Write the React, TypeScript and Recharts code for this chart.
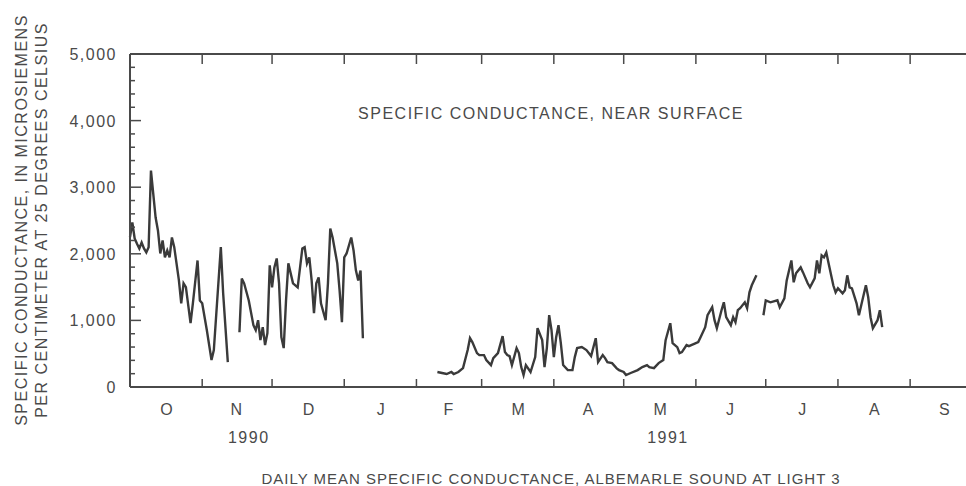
import { Line, LineChart, XAxis, YAxis } from "recharts";

// daily mean specific conductance, [day of water year (0 = Oct 1 1990), value]
const octNov: [number, number][] = [
  [0, 2250], [1, 2470], [2, 2230], [3, 2150], [4, 2080], [5, 2170], [6, 2080], [7, 2020],
  [8, 2100], [9, 3250], [11, 2545], [12, 2350], [13, 2005], [14, 2200], [15, 1946], [16, 2050],
  [17, 1946], [18, 2245], [19, 2100], [21, 1600], [22, 1257], [23, 1557], [24, 1500], [26, 958],
  [27, 1257], [29, 1900], [30, 1300], [31, 1257], [33, 853], [35, 404], [36, 554], [39, 2100],
  [40, 1407], [42, 374],
];

const novJan: [number, number][] = [
  [47, 823], [48, 1630], [49, 1557], [51, 1300], [53, 928], [54, 853], [55, 1003], [56, 704],
  [57, 898], [58, 629], [59, 808], [60, 1826], [61, 1497], [62, 1796], [63, 1930], [64, 1557],
  [65, 748], [66, 584], [67, 1300], [68, 1856], [70, 1557], [71, 1527], [72, 1497], [74, 2080],
  [75, 2100], [76, 1856], [77, 1946], [78, 1600], [79, 1108], [80, 1557], [81, 1647], [82, 1257],
  [84, 1003], [85, 1557], [86, 2380], [87, 2245], [89, 1856], [90, 1452], [91, 973], [92, 1946],
  [93, 2005], [95, 2245], [96, 2050], [97, 1751], [98, 1600], [99, 1750], [100, 733],
];

const febJun: [number, number][] = [
  [132, 225], [134, 210], [136, 195], [138, 225], [139, 195], [141, 225], [143, 284], [145, 554],
  [146, 733], [147, 674], [149, 509], [150, 479], [152, 479], [153, 404], [155, 329], [156, 434],
  [158, 509], [160, 763], [161, 524], [162, 479], [163, 464], [164, 329], [166, 584], [167, 509],
  [168, 299], [169, 180], [170, 329], [172, 225], [174, 449], [175, 883], [177, 704], [178, 299],
  [179, 584], [180, 1078], [181, 853], [182, 449], [183, 748], [184, 928], [185, 659], [186, 329],
  [188, 254], [190, 254], [191, 449], [192, 584], [194, 599], [196, 554], [198, 464], [200, 733],
  [201, 374], [203, 479], [204, 434], [205, 374], [207, 359], [209, 280], [210, 254], [212, 225],
  [213, 180], [215, 210], [218, 254], [220, 299], [222, 329], [223, 299], [225, 284], [227, 359],
  [229, 404], [230, 704], [232, 958], [233, 659], [235, 599], [236, 509], [237, 524], [239, 629],
  [240, 614], [242, 644], [244, 674], [245, 748], [247, 898], [248, 1078], [250, 1198], [251, 1003],
  [252, 883], [254, 1153], [255, 1272], [256, 1048], [258, 928], [259, 1048], [260, 973], [261, 1153],
  [262, 1183], [264, 1272], [265, 1183], [266, 1422], [267, 1527], [269, 1677],
];

const julAug: [number, number][] = [
  [272, 1078], [273, 1300], [275, 1272], [278, 1302], [279, 1198], [281, 1332], [282, 1600],
  [284, 1900], [285, 1572], [286, 1707], [288, 1796], [289, 1721], [291, 1557], [292, 1497],
  [294, 1632], [295, 1900], [296, 1707], [297, 1976], [298, 1946], [299, 2020], [300, 1856],
  [302, 1527], [303, 1422], [304, 1482], [306, 1407], [307, 1452], [308, 1677], [309, 1497],
  [310, 1482], [312, 1257], [313, 1078], [314, 1227], [316, 1527], [317, 1347], [318, 1048],
  [319, 883], [321, 1003], [322, 1153], [323, 898],
];

// days with missing record (line breaks)
const gapDays = [44, 116, 270];

const monthStarts = [0, 31, 61, 92, 123, 151, 182, 212, 243, 273, 304, 335, 365];
const monthLabels = ["O", "N", "D", "J", "F", "M", "A", "M", "J", "J", "A", "S"];
const yearLabels = [
  { day: 51, label: "1990" },
  { day: 231, label: "1991" },
];
const yMajor = [0, 1000, 2000, 3000, 4000, 5000];
const yMinorStep = 200;

const data: { day: number; value: number | null }[] = [];
[octNov, novJan, febJun, julAug].forEach((seg) =>
  seg.forEach(([day, value]) => data.push({ day, value }))
);
gapDays.forEach((day) => data.push({ day, value: null }));
data.sort((a, b) => a.day - b.day);

const monthMids = monthLabels.map((_, i) => Math.round((monthStarts[i] + monthStarts[i + 1]) / 2));
const bottomTicks = [...monthMids, ...yearLabels.map((d) => d.day)].sort((a, b) => a - b);
const yAll: number[] = [];
for (let v = 0; v <= 5000; v += yMinorStep) yAll.push(v);

// chart layout (plot box follows from margins / axis sizes below)
const W = 1000;
const H = 486;
const M = { top: 54, right: 20, left: 0, bottom: 39 };
const yAxisW = 130;
const xAxisH = 60;
const plotL = M.left + yAxisW;
const plotR = W - M.right;
const plotT = M.top;
const plotB = H - M.bottom - xAxisH;
const xOf = (d: number) => plotL + (d / 365) * (plotR - plotL);
const yOf = (v: number) => plotB - (v / 5000) * (plotB - plotT);

const ink = "#4a4a4a";
const font = "'Liberation Sans', Arial, sans-serif";

const BottomTick = (props: any) => {
  const { x, y, payload } = props;
  const v = payload.value;
  const mi = monthMids.indexOf(v);
  const yl = yearLabels.find((d) => d.day === v);
  const label = mi >= 0 ? monthLabels[mi] : yl ? yl.label : "";
  return (
    <text x={x} y={y + (mi >= 0 ? 28 : 56)} textAnchor="middle" fill={ink} fontSize={16} fontFamily={font} letterSpacing={1.5}>
      {label}
    </text>
  );
};

const LeftTick = (props: any) => {
  const { x, y, payload } = props;
  return (
    <text x={x - 13} y={y + 6} textAnchor="end" fill={ink} fontSize={16} fontFamily={font} letterSpacing={1.5}>
      {payload.value.toLocaleString("en-US")}
    </text>
  );
};

export default function App() {
  return (
    <div
      style={{
        position: "absolute",
        left: 0,
        top: 0,
        width: 966,
        height: 486,
        overflow: "hidden",
        background: "#fff",
      }}
    >
      <LineChart width={W} height={H} data={data} margin={M}>
        <XAxis
          dataKey="day"
          type="number"
          domain={[0, 365]}
          ticks={bottomTicks}
          interval={0}
          height={xAxisH}
          tickSize={0}
          tickMargin={0}
          tickLine={false}
          tick={(p: any) => <BottomTick {...p} />}
          axisLine={{ stroke: ink, strokeWidth: 2 }}
        />
        <YAxis
          type="number"
          domain={[0, 5000]}
          ticks={yMajor}
          interval={0}
          width={yAxisW}
          tickSize={0}
          tickMargin={0}
          tickLine={false}
          tick={(p: any) => <LeftTick {...p} />}
          axisLine={{ stroke: ink, strokeWidth: 2 }}
        />
        <Line dataKey="value" stroke="#3a3a3a" strokeWidth={2.4} dot={false} isAnimationActive={false} />
      </LineChart>
      <svg width={966} height={486} style={{ position: "absolute", left: 0, top: 0, pointerEvents: "none" }}>
        {/* frame: top border and inward ticks */}
        <g stroke={ink} strokeWidth={1.5}>
          <line x1={plotL} x2={plotR} y1={plotT} y2={plotT} strokeWidth={2} />
          {monthStarts.map((d) => (
            <line key={`t${d}`} x1={xOf(d)} x2={xOf(d)} y1={plotT} y2={plotT + 10} />
          ))}
          {monthStarts.map((d) => (
            <line key={`b${d}`} x1={xOf(d)} x2={xOf(d)} y1={plotB} y2={plotB - 8} />
          ))}
          {yAll.map((v) => (
            <line key={`y${v}`} x1={plotL} x2={plotL + (yMajor.includes(v) ? 11 : 5)} y1={yOf(v)} y2={yOf(v)} />
          ))}
        </g>
        <g fill={ink} fontFamily={font} fontSize={16} letterSpacing={1.5}>
          <text x={551} y={119} textAnchor="middle">
            SPECIFIC CONDUCTANCE, NEAR SURFACE
          </text>
          <text x={551} y={484} textAnchor="middle" fontSize={15} letterSpacing={1}>
            DAILY MEAN SPECIFIC CONDUCTANCE, ALBEMARLE SOUND AT LIGHT 3
          </text>
          <text x={27} y={220} textAnchor="middle" transform="rotate(-90 27 220)">
            SPECIFIC CONDUCTANCE, IN MICROSIEMENS
          </text>
          <text x={47} y={220} textAnchor="middle" transform="rotate(-90 47 220)">
            PER CENTIMETER AT 25 DEGREES CELSIUS
          </text>
        </g>
      </svg>
    </div>
  );
}
